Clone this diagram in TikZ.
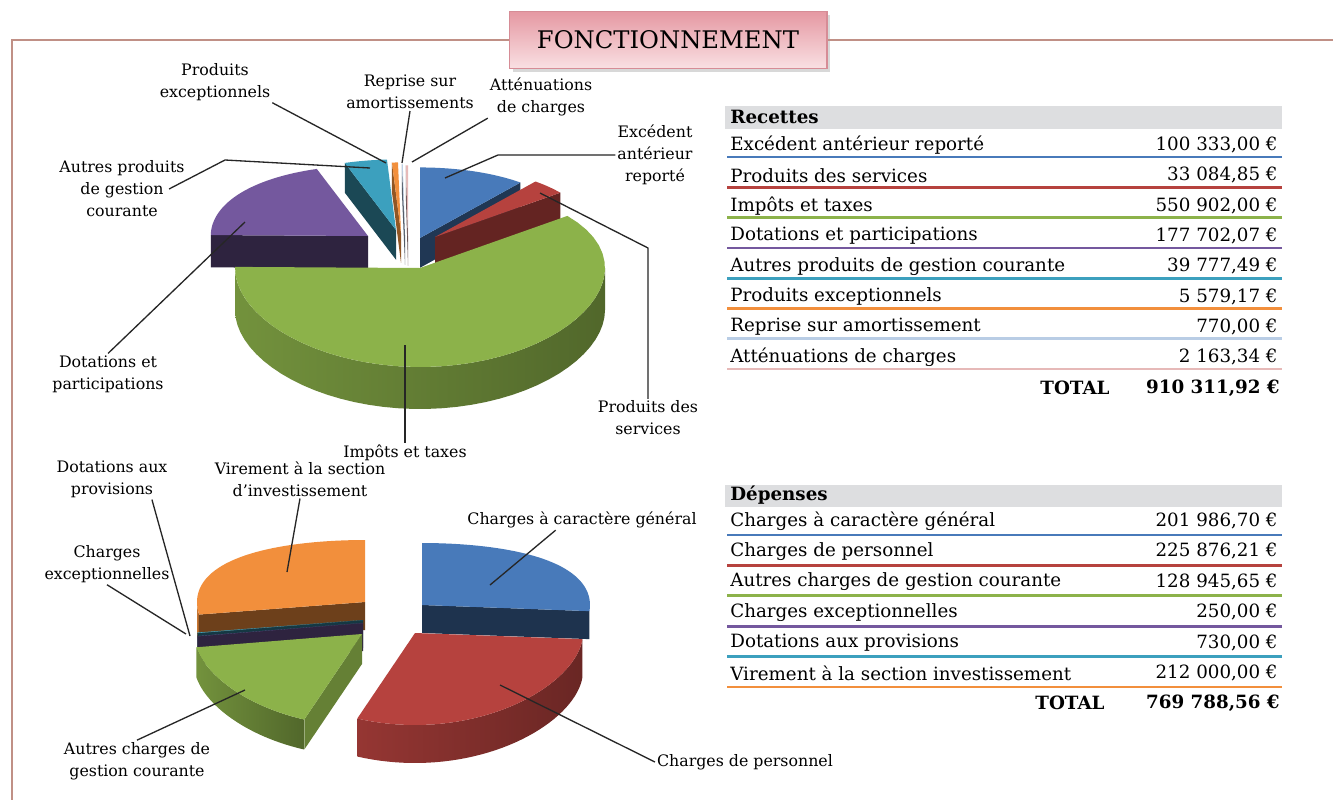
\documentclass[tikz,border=0pt]{standalone}
\usepackage{fontspec}
\setmainfont{DejaVu Serif}
\usepackage{tikz}
\usetikzlibrary{positioning,shadows}

\definecolor{frameline}{RGB}{192,144,134}
\definecolor{titleedge}{RGB}{214,140,150}
\definecolor{titletop}{RGB}{229,152,162}
\definecolor{titlebot}{RGB}{249,224,227}
\definecolor{headgrey}{RGB}{221,222,224}
\definecolor{pieblue}{RGB}{72,122,186}
\definecolor{piered}{RGB}{182,66,62}
\definecolor{piegreen}{RGB}{140,178,74}
\definecolor{piepurple}{RGB}{116,88,158}
\definecolor{pieaqua}{RGB}{60,160,190}
\definecolor{pieorange}{RGB}{242,143,60}
\definecolor{pielightblue}{RGB}{185,205,229}
\definecolor{piepink}{RGB}{230,185,184}

\tikzset{
  frame/.style={draw=frameline, line width=1.7pt},
  titlebox/.style={draw=titleedge, line width=0.6pt, top color=titletop, bottom color=titlebot,
    minimum width=6.36cm, minimum height=1.14cm, font=\fontsize{13.8}{16}\selectfont,
    drop shadow={shadow xshift=2pt, shadow yshift=-2pt, opacity=0.3}},
  lbl/.style={align=center, font=\fontsize{9}{12.5}\selectfont, inner sep=1pt},
  leader/.style={draw=black!85, line width=0.75pt},
  rowtext/.style={font=\fontsize{10.4}{12}\selectfont, inner sep=0pt},
  boldtext/.style={font=\fontsize{10.4}{12}\selectfont\bfseries, inner sep=0pt},
  rowline/.style={line width=1.5pt},
}

% 3D slice: apex, from, to, colour, scale, depth, face shade
\newcommand{\pieslice}[7]{%
  \begin{scope}[shift={#1}, scale=#5]
    \pgfmathtruncatemacro\facelo{cos(#2)>0.01}
    \pgfmathtruncatemacro\facehi{cos(#3)<-0.01}
    \ifnum\facelo=1
      \fill[#4!#7!black] (0,0) -- ({px(#2)},{py(#2)}) -- ++(0,#6) -- (0,#6) -- cycle;
    \fi
    \ifnum\facehi=1
      \fill[#4!#7!black] (0,0) -- ({px(#3)},{py(#3)}) -- ++(0,#6) -- (0,#6) -- cycle;
    \fi
    \fill[#4] (0,0) -- plot[domain=#2:#3, samples=40] ({px(\x)},{py(\x)}) -- cycle;
  \end{scope}}
% front rim of a slice: apex, from, to, colour, scale, depth
\newcommand{\pierim}[6]{%
  \begin{scope}[shift={#1}, scale=#5]
    \shade[left color=#4!82!black, right color=#4!58!black]
      plot[domain=#2:#3, samples=40] ({px(\x)},{py(\x)})
      -- plot[domain=#3:#2, samples=40] ({px(\x)},{py(\x)+#6}) -- cycle;
  \end{scope}}

\begin{document}
\begin{tikzpicture}[x=0.02cm, y=-0.02cm]
\useasboundingbox (0,0) rectangle (1333,805);
\fill[white] (0,0) rectangle (1333,805);

% frame and title
\node[titlebox] (titl) at (668,40) {FONCTIONNEMENT};
\draw[frame] (titl.west) -- (12,40) -- (12,800);
\draw[frame] (titl.east) -- (1333,40);

% recettes pie
\begin{scope}[declare function={px(\t)=185*cos(\t); py(\t)=-91*sin(\t)+8*sin(\t)*sin(\t);}]
\pieslice{(408,236)}{90}{90.8}{piepink}{0.85}{35}{45}
\pieslice{(405,235)}{90.8}{91.1}{pielightblue}{0.85}{35}{45}
\pieslice{(401,233)}{91.1}{93.3}{pieorange}{0.85}{35}{60}
\pieslice{(396,230)}{93.3}{109}{pieaqua}{0.85}{35}{45}
\pieslice{(420,238)}{50.3}{90}{pieblue}{0.85}{35}{45}
\pieslice{(368,236)}{109}{179.3}{piepurple}{0.85}{38}{40}
\pieslice{(435,237)}{37.2}{50.3}{piered}{0.85}{40}{55}
\pierim{(420,268)}{-180}{0}{piegreen}{1}{42}
\pieslice{(420,268)}{-180.7}{37.2}{piegreen}{1}{42}{70}
\end{scope}

% depenses pie
\begin{scope}[declare function={px(\t)=168*cos(\t); py(\t)=-77*sin(\t)+15*sin(\t)*sin(\t);}]
\pieslice{(422,605)}{-4.5}{90}{pieblue}{1}{28}{42}
\pierim{(365,602)}{180}{189.1}{pieorange}{1}{28}
\pieslice{(365,602)}{90}{189.1}{pieorange}{1}{28}{45}
\pieslice{(363,620)}{189.1}{189.5}{pieaqua}{1}{28}{35}
\pieslice{(363,623)}{189.5}{189.6}{piepurple}{1}{28}{40}
\pierim{(362,634)}{-170.4}{-110.1}{piegreen}{1}{30}
\pieslice{(362,634)}{-170.4}{-110.1}{piegreen}{1}{30}{72}
\pierim{(415,633)}{-110.1}{-4.5}{piered}{1}{38}
\pieslice{(415,633)}{-110.1}{-4.5}{piered}{1}{38}{55}
\end{scope}

% recettes labels
\node[lbl] (pexc) at (215,82) {Produits\\exceptionnels};
\node[lbl] (repr) at (410,92) {Reprise sur\\amortissements};
\node[lbl] (attn) at (541,97) {Atténuations\\de charges};
\node[lbl] (exce) at (655,155) {Excédent\\antérieur\\reporté};
\node[lbl] (autp) at (122,189) {Autres produits\\de gestion\\courante};
\node[lbl] (dotp) at (108,374) {Dotations et\\participations};
\node[lbl] (impt) at (405,453) {Impôts et taxes};
\node[lbl] (pser) at (648,418) {Produits des\\services};
\coordinate (pexcend) at (386,163);
\coordinate (reprend) at (402,163);
\coordinate (attnend) at (412,162);
\coordinate (excebend) at (498,155);
\coordinate (exceend) at (445,178);
\coordinate (autpbend) at (225,160);
\coordinate (autpend) at (370,168);
\coordinate (dotpend) at (245,222);
\coordinate (imptend) at (405,345);
\coordinate (pserbend) at (648,248);
\coordinate (pserend) at (540,193);
\draw[leader] (pexc.south east) -- (pexcend);
\draw[leader] (repr.south) -- (reprend);
\draw[leader] (attn.south west) -- (attnend);
\draw[leader] (exce.west) -- (excebend) -- (exceend);
\draw[leader] ([xshift=-10pt]autp.east) -- (autpbend) -- (autpend);
\draw[leader] (dotp.north) -- (dotpend);
\draw[leader] (impt.north) -- (imptend);
\draw[leader] (pser.north) -- (pserbend) -- (pserend);

% depenses labels
\node[lbl] (dprv) at (112,479) {Dotations aux\\provisions};
\node[lbl] (vire) at (300,479) {Virement à la section\\d'investissement};
\node[lbl] (ccg) at (582,520) {Charges à caractère général};
\node[lbl] (cexc) at (107,564) {Charges\\exceptionnelles};
\node[lbl] (acgc) at (137,761) {Autres charges de\\gestion courante};
\node[lbl] (cper) at (745,762) {Charges de personnel};
\coordinate (dprvend) at (190,636);
\coordinate (vireend) at (287,572);
\coordinate (ccgend) at (490,585);
\coordinate (cexcend) at (186,634);
\coordinate (acgcend) at (245,690);
\coordinate (cperend) at (500,685);
\draw[leader] ([xshift=-10pt]dprv.south east) -- (dprvend);
\draw[leader] (vire.south) -- (vireend);
\draw[leader] ([xshift=-15pt]ccg.south) -- (ccgend);
\draw[leader] (cexc.south) -- (cexcend);
\draw[leader] (acgc.north) -- (acgcend);
\draw[leader] (cper.west) -- (cperend);

% recettes table
\fill[headgrey] (725,106) rectangle (1282,129);
\node[boldtext, anchor=west] (rechead) at (730,117) {Recettes};
\foreach \txt/\amt/\col [count=\i] in {
  Excédent antérieur reporté/{100 333,00 €}/pieblue,
  Produits des services/{33 084,85 €}/piered,
  Impôts et taxes/{550 902,00 €}/piegreen,
  Dotations et participations/{177 702,07 €}/piepurple,
  Autres produits de gestion courante/{39 777,49 €}/pieaqua,
  Produits exceptionnels/{5 579,17 €}/pieorange,
  Reprise sur amortissement/{770,00 €}/pielightblue,
  Atténuations de charges/{2 163,34 €}/piepink}{
  \pgfmathsetmacro\ry{145+30.3*(\i-1)}
  \node[rowtext, anchor=west] (rec\i) at (730,\ry) {\txt};
  \node[rowtext, anchor=east] (recv\i) at (1278,\ry) {\amt};
  \draw[rowline, \col] (727,\ry+12) -- (1282,\ry+12);
}
\node[boldtext] (rectot) at (1075,388) {TOTAL};
\node[boldtext, anchor=east] (recsum) at (1280,388) {910 311,92 €};

% depenses table
\fill[headgrey] (725,485) rectangle (1282,507);
\node[boldtext, anchor=west] (dephead) at (730,495) {Dépenses};
\foreach \txt/\amt/\col [count=\i] in {
  Charges à caractère général/{201 986,70 €}/pieblue,
  Charges de personnel/{225 876,21 €}/piered,
  Autres charges de gestion courante/{128 945,65 €}/piegreen,
  Charges exceptionnelles/{250,00 €}/piepurple,
  Dotations aux provisions/{730,00 €}/pieaqua,
  Virement à la section investissement/{212 000,00 €}/pieorange}{
  \pgfmathsetmacro\ry{521+30.4*(\i-1)}
  \node[rowtext, anchor=west] (dep\i) at (730,\ry) {\txt};
  \node[rowtext, anchor=east] (depv\i) at (1278,\ry) {\amt};
  \draw[rowline, \col] (727,\ry+14) -- (1282,\ry+14);
}
\node[boldtext] (deptot) at (1070,703) {TOTAL};
\node[boldtext, anchor=east] (depsum) at (1280,703) {769 788,56 €};
\end{tikzpicture}
\end{document}
